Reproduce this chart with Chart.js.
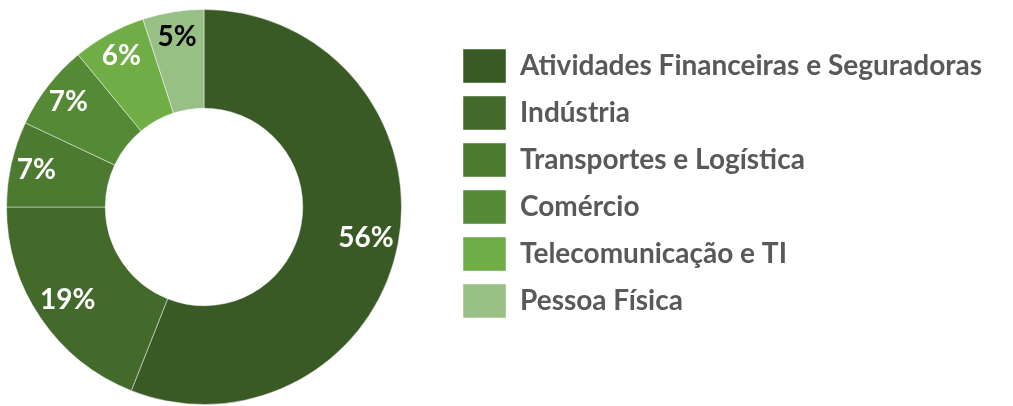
<!DOCTYPE html>
<html>
<head>
<meta charset="utf-8">
<script src="https://cdn.jsdelivr.net/npm/chart.js@4.4.1/dist/chart.umd.min.js"></script>
<style>
  html, body { margin: 0; padding: 0; background: #ffffff; overflow: hidden; }
  #page { width: 1013px; height: 406px; overflow: hidden; position: relative; }
  /* canvas a bit wider than the page, shifted left so the ring sits near the edge */
  #wrap { width: 1055px; height: 406px; position: absolute; left: -42px; top: 0; }
</style>
</head>
<body>
<div id="page"><div id="wrap"><canvas id="sectorChart"></canvas></div></div>
<script>
const categories = [
  'Atividades Financeiras e Seguradoras',
  'Indústria',
  'Transportes e Logística',
  'Comércio',
  'Telecomunicação e TI',
  'Pessoa Física'
];
const shares = [56, 19, 7, 7, 6, 5];
const sliceColors = ['#3A5A25', '#43692B', '#4B7A30', '#548A36', '#70AD47', '#98BF85'];
const labelColors = ['#ffffff', '#ffffff', '#ffffff', '#ffffff', '#ffffff', '#000000'];

// percent labels inside the ring
const sliceLabels = {
  id: 'sliceLabels',
  afterDatasetsDraw(chart) {
    const { ctx } = chart;
    const meta = chart.getDatasetMeta(0);
    ctx.save();
    ctx.font = 'bold 28px Lato';
    ctx.textAlign = 'center';
    ctx.textBaseline = 'middle';
    meta.data.forEach((arc, i) => {
      const p = arc.getProps(['x', 'y', 'startAngle', 'endAngle', 'innerRadius', 'outerRadius'], true);
      const mid = (p.startAngle + p.endAngle) / 2;
      const r = p.innerRadius + (shares[i] < 10 ? 0.74 : 0.67) * (p.outerRadius - p.innerRadius);
      ctx.fillStyle = labelColors[i];
      ctx.fillText(shares[i] + '%', p.x + Math.cos(mid) * r, p.y + Math.sin(mid) * r);
    });
    ctx.restore();
  }
};

const ctx = document.getElementById('sectorChart').getContext('2d');
new Chart(ctx, {
  type: 'doughnut',
  data: {
    labels: categories,
    datasets: [{
      data: shares,
      backgroundColor: sliceColors,
      borderColor: 'rgba(255,255,255,0.45)',
      borderWidth: 1,
    }],
  },
  options: {
    responsive: true,
    maintainAspectRatio: false,
    animation: false,
    cutout: '50%',
    layout: { padding: { left: 0, right: 21, top: 9, bottom: 1 } },
    plugins: {
      tooltip: { enabled: false },
      legend: {
        position: 'right',
        align: 'start',
        maxWidth: 700,
        title: { display: true, text: '', font: { size: 12, lineHeight: '27px' }, padding: 0 },
        labels: {
          boxWidth: 43,
          boxHeight: 34,
          padding: 13,
          color: '#595959',
          font: { family: 'Lato', size: 28, weight: 'bold' },
        },
      },
    },
  },
  plugins: [sliceLabels],
});
</script>
</body>
</html>
